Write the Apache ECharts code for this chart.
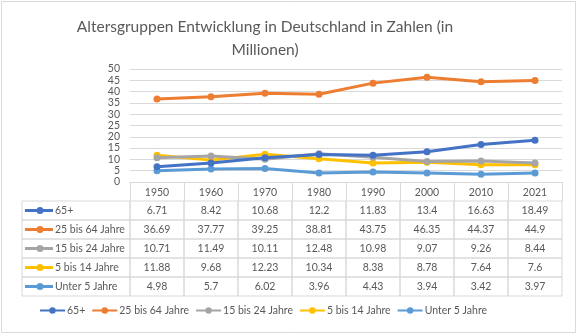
<!DOCTYPE html>
<html><head><meta charset="utf-8">
<script src="https://cdn.jsdelivr.net/npm/echarts@6/dist/echarts.min.js"></script>
<style>html,body{margin:0;padding:0;background:#fff}#c{width:579px;height:336px}</style>
</head><body><div id="c"></div>
<script>
const title = 'Altersgruppen Entwicklung in Deutschland in Zahlen (in\nMillionen)';
const years = ['1950','1960','1970','1980','1990','2000','2010','2021'];
const seriesNames = ['65+','25 bis 64 Jahre','15 bis 24 Jahre','5 bis 14 Jahre','Unter 5 Jahre'];
const colors = ['#4472C4','#ED7D31','#A5A5A5','#FFC000','#5B9BD5'];
const s65plus = [6.71,8.42,10.68,12.2,11.83,13.4,16.63,18.49];
const s25to64 = [36.69,37.77,39.25,38.81,43.75,46.35,44.37,44.9];
const s15to24 = [10.71,11.49,10.11,12.48,10.98,9.07,9.26,8.44];
const s5to14 = [11.88,9.68,12.23,10.34,8.38,8.78,7.64,7.6];
const sUnder5 = [4.98,5.7,6.02,3.96,4.43,3.94,3.42,3.97];
const yTicks = {min:0,max:50,interval:5};
const allSeries = [s65plus,s25to64,s15to24,s5to14,sUnder5];

const FONT = "Lato, 'Open Sans', sans-serif";
const TXT = '#595959';
const GRID = '#d9d9d9';
const FS = 10.5;

const tableData = [];
allSeries.forEach((arr,r)=>arr.forEach((v,c)=>tableData.push([c,r,v])));

const chart = echarts.init(document.getElementById('c'),null,{renderer:'canvas'});
const lineSeries = allSeries.map((arr,i)=>({
  name: seriesNames[i], type:'line', data: arr, xAxisIndex:0, yAxisIndex:0,
  symbol:'circle', symbolSize:7, color: colors[i],
  lineStyle:{width:3,color:colors[i]}, itemStyle:{color:colors[i]}, z: 10-i
}));

chart.setOption({
  animation:false,
  textStyle:{fontFamily:FONT},
  title:{text:title,left:260,textAlign:'center',top:10,textStyle:{fontFamily:FONT,fontSize:15.5,fontWeight:'normal',color:TXT,lineHeight:23,align:'center'}},
  graphic:[{type:'rect',shape:{x:1.5,y:1.5,width:574,height:331},style:{fill:'none',stroke:GRID,lineWidth:1},silent:true}],
  legend:{bottom:15,left:34,itemWidth:25,itemHeight:8,itemGap:6,
    textStyle:{fontFamily:FONT,fontSize:FS,color:TXT,padding:[0,0,0,-3]},
    data:seriesNames},
  grid:[{left:130,right:17,top:69,height:113},{left:130,right:17,top:201,height:95}],
  xAxis:[
    {type:'category',gridIndex:0,data:years,boundaryGap:true,
      axisLine:{lineStyle:{color:GRID,width:1}},
      axisTick:{show:true,length:19,lineStyle:{color:GRID}},
      axisLabel:{color:TXT,fontSize:FS,fontFamily:FONT,margin:5}},
    {type:'category',gridIndex:1,data:years,boundaryGap:true,show:false}
  ],
  yAxis:[
    {type:'value',gridIndex:0,min:yTicks.min,max:yTicks.max,interval:yTicks.interval,
      axisLine:{show:false},axisTick:{show:false},
      splitLine:{lineStyle:{color:GRID,width:1}},
      axisLabel:{color:TXT,fontSize:FS,lineHeight:9,fontFamily:FONT,margin:10,showMinLabel:true,showMaxLabel:true,hideOverlap:false}},
    {type:'category',gridIndex:1,data:seriesNames,inverse:true,show:false}
  ],
  series: lineSeries.concat([{
    type:'custom', xAxisIndex:1, yAxisIndex:1, data: tableData, silent:true, clip:false,
    renderItem:function(params,api){
      const c = api.value(0), r = api.value(1), v = api.value(2);
      const p = api.coord([c,r]);
      const sz = api.size([1,1]);
      const w = sz[0], h = sz[1];
      const x0 = p[0]-w/2, y0 = p[1]-h/2;
      const children = [
        {type:'rect',shape:{x:x0,y:y0,width:w,height:h},style:{fill:'none',stroke:GRID,lineWidth:1}},
        {type:'text',style:{text:String(v),x:p[0],y:p[1],align:'center',verticalAlign:'middle',fill:TXT,font:FS+'px '+FONT}}
      ];
      if(c===0){
        const lx = x0-108;
        children.push(
          {type:'rect',shape:{x:lx,y:y0,width:108,height:h},style:{fill:'none',stroke:GRID,lineWidth:1}},
          {type:'line',shape:{x1:lx+3,y1:p[1],x2:lx+31,y2:p[1]},style:{stroke:colors[r],lineWidth:3}},
          {type:'circle',shape:{cx:lx+18,cy:p[1],r:3.5},style:{fill:colors[r]}},
          {type:'text',style:{text:seriesNames[r],x:lx+33,y:p[1],align:'left',verticalAlign:'middle',fill:TXT,font:FS+'px '+FONT}}
        );
      }
      return {type:'group',children:children};
    }
  }])
});
</script></body></html>
